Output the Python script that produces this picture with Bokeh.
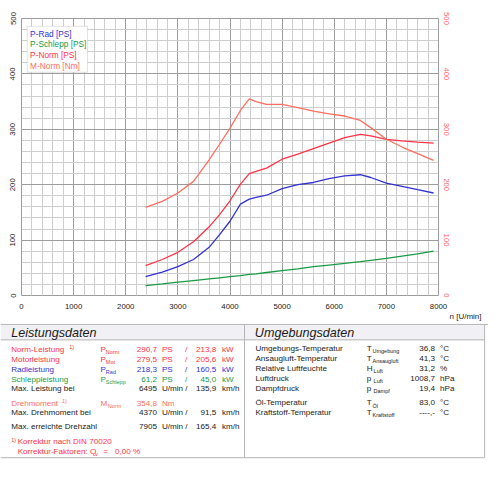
from bokeh.plotting import figure
from bokeh.models import Range1d, LinearAxis, FixedTicker, BoxAnnotation, Label, Title
from bokeh.layouts import column
from bokeh.embed import file_html
from bokeh.resources import INLINE
from bokeh.core.properties import value

# ---------------- data ----------------
rpm = [2380, 2700, 3000, 3300, 3600, 3800, 4000, 4200, 4370, 4500, 4700,
       5000, 5300, 5600, 5900, 6200, 6500, 6700, 7000, 7300, 7600, 7905]
p_rad = [34, 42, 52, 65, 87, 110, 134, 165, 174, 177, 181,
         193, 200, 204, 211, 216, 218, 213, 203, 197, 191, 185]
p_schlepp = [18, 21, 24, 27, 30, 32, 34, 36, 38, 39, 41.5,
             45, 48, 52, 55, 58, 61, 63.5, 67, 71, 75, 80]
p_norm = [54, 65, 78, 97, 124, 146, 171, 201, 220, 224, 230,
          246, 255, 265, 275, 285, 291, 288, 282, 279, 277, 275]
m_norm = [159, 170, 185, 206, 245, 273, 302, 334, 355, 350, 345,
          345, 339, 333, 328, 324, 316, 303, 282, 268, 256, 244]

x_ticks = [0, 1000, 2000, 3000, 4000, 5000, 6000, 7000, 8000]
x_minor = list(range(0, 8001, 200))
y_ticks = [0, 100, 200, 300, 400, 500]
y_minor = list(range(0, 501, 20))
legend_labels = ["P-Rad [PS]", "P-Schlepp [PS]", "P-Norm [PS]", "M-Norm [Nm]"]
x_label = "n [U/min]"

lt_title = "Leistungsdaten"
lt_labels = ["Norm-Leistung", "Motorleistung", "Radleistung", "Schleppleistung",
             "Max. Leistung bei", "Drehmoment", "Max. Drehmoment bei",
             "Max. erreichte Drehzahl"]
lt_sym = ["P", "P", "P", "P", "", "M", "", ""]
lt_sub = ["Norm", "Mot", "Rad", "Schlepp", "", "Norm", "", ""]
lt_val1 = ["290,7", "279,5", "218,3", "61,2", "6495", "354,8", "4370", "7905"]
lt_unit1 = ["PS", "PS", "PS", "PS", "U/min /", "Nm", "U/min /", "U/min /"]
lt_slash = ["/", "/", "/", "/", "", "", "", ""]
lt_val2 = ["213,8", "205,6", "160,5", "45,0", "135,9", "", "91,5", "165,4"]
lt_unit2 = ["kW", "kW", "kW", "kW", "km/h", "", "km/h", "km/h"]
foot1 = "Korrektur nach DIN 70020"
foot2 = "Korrektur-Faktoren: Q"
foot2_sub = "v"
foot2_rest = ["=", "0,00 %"]

rt_title = "Umgebungsdaten"
rt_labels = ["Umgebungs-Temperatur", "Ansaugluft-Temperatur", "Relative Luftfeuchte",
             "Luftdruck", "Dampfdruck", "Öl-Temperatur", "Kraftstoff-Temperatur"]
rt_sym = ["T", "T", "H", "p", "p", "T", "T"]
rt_sub = ["Umgebung", "Ansaugluft", "Luft", "Luft", "Dampf", "Öl", "Kraftstoff"]
rt_vals = ["36,8", "41,3", "31,2", "1008,7", "19,4", "83,0", "----,-"]
rt_units = ["°C", "°C", "%", "hPa", "hPa", "°C", "°C"]

# ---------------- style ----------------
FONT = "Liberation Sans"
BLUE = "#3232d2"
GREEN = "#1a9a44"
RED = "#ff3344"
SALMON = "#ff6e60"
BLACK = "#1a1a1a"
GRID_MAJ = "#9c9c9c"
GRID_MIN = "#cdcdcd"

# ---------------- chart ----------------
p = figure(width=488, height=322, x_range=Range1d(0, 8000), y_range=Range1d(0, 500),
           output_backend="svg", toolbar_location=None,
           min_border_left=21, min_border_right=50, min_border_top=18, min_border_bottom=25)
p.frame_align = False
p.extra_y_ranges = {"torque": Range1d(0, 500)}
p.background_fill_color = "white"
p.border_fill_color = "white"
p.outline_line_color = GRID_MAJ

p.xaxis.ticker = FixedTicker(ticks=x_ticks, minor_ticks=x_minor)
p.yaxis.ticker = FixedTicker(ticks=y_ticks, minor_ticks=y_minor)
for g in (p.xgrid, p.ygrid):
    g.grid_line_color = GRID_MAJ
    g.grid_line_width = 1
    g.minor_grid_line_color = GRID_MIN
    g.minor_grid_line_width = 1

rax = LinearAxis(y_range_name="torque", ticker=FixedTicker(ticks=y_ticks))
p.add_layout(rax, "right")

for ax in p.axis:
    ax.axis_line_color = None
    ax.major_tick_line_color = None
    ax.minor_tick_line_color = None
    ax.major_tick_out = 0
    ax.major_tick_in = 0
    ax.major_label_text_font = FONT
    ax.major_label_text_font_size = "7.8px"
    ax.major_label_text_color = BLACK
p.xaxis.major_label_standoff = 4
p.yaxis.major_label_standoff = 2
p.yaxis.major_label_orientation = "vertical"
rax.major_label_orientation = "vertical"
rax.major_label_standoff = 5
rax.major_label_text_color = "#ff6464"

p.line(rpm, p_schlepp, line_color=GREEN, line_width=1.3)
p.line(rpm, p_rad, line_color=BLUE, line_width=1.3)
p.line(rpm, p_norm, line_color=RED, line_width=1.3)
p.line(rpm, m_norm, line_color=SALMON, line_width=1.3, y_range_name="torque")

p.add_layout(BoxAnnotation(left=110, right=1265, bottom=403, top=486,
                           fill_color="white", fill_alpha=1.0,
                           line_color="#a0a0a0", line_width=1))
leg_colors = [BLUE, GREEN, RED, SALMON]
leg_y = [472, 453.5, 433.5, 414.5]
for lab, c, yy in zip(legend_labels, leg_colors, leg_y):
    p.add_layout(Label(x=165, y=yy, text=lab, text_color=c, text_font=FONT,
                       text_font_size="8.3px", text_baseline="middle"))

p.add_layout(Title(text=x_label, align="right", offset=-43, standoff=0,
                   vertical_align="top", text_line_height=0.9,
                   text_font=FONT, text_font_size="8px", text_font_style="normal",
                   text_color=BLACK), "below")

# ---------------- tables ----------------
t = figure(width=488, height=141, x_range=Range1d(0, 504), y_range=Range1d(479, 333),
           output_backend="svg", toolbar_location=None, min_border=0,
           x_axis_type=None, y_axis_type=None)
t.frame_align = False
t.grid.visible = False
t.outline_line_color = None
t.background_fill_color = "white"
t.border_fill_color = "white"

t.quad(left=[0, 252], right=[252, 500], top=[335, 335], bottom=[351, 351],
       fill_color="#f1f1f5", line_color=None)
t.segment(x0=[0, 0, 252, 0, 500], y0=[335, 351, 335, 473, 335],
          x1=[504, 500, 252, 500, 500], y1=[335, 351, 473, 473, 473],
          line_color="#b4b4b4", line_width=1)


def txt(xs, ys, texts, colors, size, align="left", style="normal"):
    t.text(x=xs, y=ys, text=texts, text_color=colors, text_font=value(FONT),
           text_font_size=value(size), text_align=align, text_font_style=style,
           text_baseline="middle")


BODY = "8.1px"
SUB = "5.5px"

txt([11, 262.7], [343.5, 343.5], [lt_title, rt_title], [BLACK, BLACK], "12.6px", style="italic")

lt_y = [360.7, 371.3, 381.7, 391.7, 401.7, 416.7, 426.7, 441]
lt_col = [RED, RED, BLUE, GREEN, BLACK, SALMON, BLACK, BLACK]
n = len(lt_labels)
txt([11] * n, lt_y, lt_labels, lt_col, BODY)
txt([103.3] * n, lt_y, lt_sym, lt_col, BODY)
sub_x = [108.8 if s == "P" else 110.8 for s in lt_sym]
txt(sub_x, [y + 3 for y in lt_y], lt_sub, lt_col, SUB)
txt([161.7] * n, lt_y, lt_val1, lt_col, BODY, align="right")
txt([166.7] * n, lt_y, lt_unit1, lt_col, BODY)
txt([191.7] * n, lt_y, lt_slash, lt_col, BODY, align="center")
txt([222.7] * n, lt_y, lt_val2, lt_col, BODY, align="right")
txt([228.7] * n, lt_y, lt_unit2, lt_col, BODY)
txt([71, 63.5, 11], [358.8, 414.8, 455.0], ["1)", "1)", "1)"], [RED, SALMON, RED], SUB)
txt([17.7, 17.7], [456.7, 466.7], [foot1, foot2], [RED, RED], BODY)
txt([97.6], [469.5], [foot2_sub], [RED], SUB)
txt([106, 118.3], [466.7, 466.7], foot2_rest, [RED, RED], BODY)

rt_y = [360, 370, 380.7, 391, 401, 416, 426]
m = len(rt_labels)
txt([263.3] * m, rt_y, rt_labels, [BLACK] * m, BODY)
txt([378.3] * m, rt_y, rt_sym, [BLACK] * m, BODY)
rsub_x = [384.2 if s == "T" else 385.3 for s in rt_sym]
txt(rsub_x, [y + 3 for y in rt_y], rt_sub, [BLACK] * m, SUB)
txt([448.7] * m, rt_y, rt_vals, [BLACK] * m, BODY, align="right")
txt([454] * m, rt_y, rt_units, [BLACK] * m, BODY)

layout = column(p, t, spacing=0)
open("out.html", "w").write(file_html(layout, INLINE))
